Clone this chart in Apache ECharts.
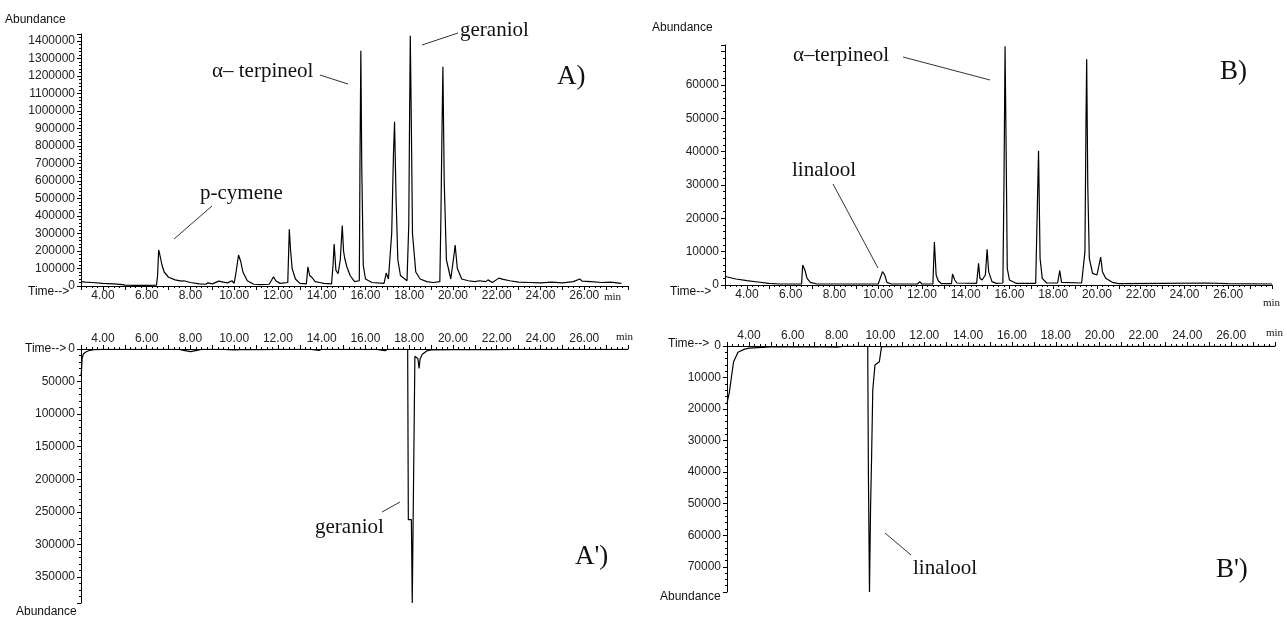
<!DOCTYPE html>
<html>
<head>
<meta charset="utf-8">
<script src="https://cdn.jsdelivr.net/npm/echarts@6/dist/echarts.min.js"></script>
<style>
  html, body { margin: 0; padding: 0; background: #fff; }
  #chart { width: 1287px; height: 617px; }
</style>
</head>
<body>
<div id="chart"></div>
<script>
// x axis: retention time (min), labels every 2 min
const timeMin = 3, timeMax = 28;
const timeLabels = [4, 6, 8, 10, 12, 14, 16, 18, 20, 22, 24, 26];

// A) sample chromatogram  [time, abundance]
const traceA = [
  [3.00, 25000], [3.2, 22000], [3.5, 20000], [4.0, 15000], [4.5, 12000], [4.9, 8000],
  [5.0, 5000], [5.5, 4000], [6.0, 4000], [6.45, 5000], [6.5, 60000], [6.55, 206000],
  [6.6, 180000], [6.7, 120000], [6.8, 80000], [7.0, 50000], [7.3, 35000], [7.6, 28000],
  [7.7, 30000], [8.0, 20000], [8.4, 12000], [8.7, 10000], [8.8, 18000], [9.0, 12000],
  [9.3, 28000], [9.5, 22000], [9.7, 18000], [9.9, 30000], [10.0, 15000], [10.1, 90000],
  [10.2, 177000], [10.3, 140000], [10.4, 80000], [10.6, 30000], [10.9, 10000], [11.2, 8000],
  [11.6, 10000], [11.8, 53000], [11.9, 30000], [12.1, 15000], [12.45, 20000], [12.52, 324000],
  [12.58, 200000], [12.65, 100000], [12.8, 40000], [13.0, 15000], [13.3, 12000], [13.37, 110000],
  [13.45, 60000], [13.55, 50000], [13.7, 25000], [13.9, 20000], [14.1, 15000], [14.45, 12000],
  [14.52, 120000], [14.57, 240000], [14.65, 90000], [14.75, 70000], [14.85, 150000], [14.94, 345000],
  [15.0, 200000], [15.05, 160000], [15.15, 110000], [15.3, 60000], [15.5, 25000], [15.72, 30000],
  [15.75, 700000], [15.79, 1344000], [15.83, 700000], [15.9, 120000], [16.0, 40000], [16.3, 20000],
  [16.85, 15000], [16.95, 74000], [17.05, 40000], [17.2, 300000], [17.28, 750000], [17.33, 939000],
  [17.4, 500000], [17.48, 150000], [17.6, 60000], [17.9, 30000], [17.98, 350000], [18.02, 1000000],
  [18.05, 1430000], [18.1, 900000], [18.15, 300000], [18.3, 80000], [18.5, 40000], [18.8, 25000],
  [19.1, 20000], [19.4, 25000], [19.45, 400000], [19.5, 900000], [19.54, 1253000], [19.6, 600000],
  [19.7, 150000], [19.9, 40000], [20.05, 180000], [20.1, 234000], [20.2, 100000], [20.4, 40000],
  [20.7, 30000], [21.0, 25000], [21.2, 30000], [21.5, 25000], [21.6, 35000], [21.8, 20000],
  [22.1, 45000], [22.3, 38000], [22.6, 30000], [23.0, 22000], [23.5, 20000], [24.0, 18000],
  [24.5, 22000], [25.0, 18000], [25.5, 25000], [25.8, 40000], [25.9, 28000], [26.3, 25000],
  [26.8, 20000], [27.2, 22000], [27.7, 15000]
];

// A') difference trace, plotted downward
const traceA2 = [
  [3.0, 40000], [3.02, 35000], [3.05, 15000], [3.1, 8000], [3.2, 5000], [3.4, 2000],
  [3.6, 1000], [4.0, 500], [6.0, 500], [7.5, 500], [7.7, 2000], [8.0, 4000],
  [8.3, 2000], [8.5, 500], [9.5, 500], [10.0, 1500], [10.5, 500], [11.0, 1000],
  [12.0, 500], [13.5, 500], [13.9, 2000], [14.0, 500], [16.5, 500], [16.9, 2500],
  [17.0, 500], [17.93, 500], [17.96, 262000], [18.1, 262000], [18.14, 390000], [18.2, 390000],
  [18.26, 11000], [18.35, 12000], [18.4, 15000], [18.45, 30000], [18.5, 15000], [18.6, 8000],
  [18.8, 3000], [19.0, 1500], [20.0, 1000], [22.0, 1000], [22.8, 500], [24.0, 500],
  [28.0, 500]
];

// B) sample chromatogram
const traceB = [
  [3.0, 2700], [3.1, 2400], [3.5, 1800], [4.0, 1300], [4.5, 900], [5.0, 500],
  [5.5, 300], [6.5, 300], [6.55, 6000], [6.65, 4500], [6.75, 2000], [6.9, 800],
  [7.2, 300], [10.0, 300], [10.2, 4000], [10.3, 3000], [10.4, 800], [10.6, 300],
  [11.8, 300], [11.9, 1000], [12.0, 300], [12.5, 300], [12.57, 12900], [12.65, 3000],
  [12.75, 1200], [12.9, 400], [13.35, 400], [13.4, 3300], [13.5, 1500], [13.6, 600],
  [14.5, 500], [14.59, 6500], [14.65, 2000], [14.75, 1500], [14.9, 3000], [14.98, 10700],
  [15.05, 4000], [15.2, 1000], [15.4, 500], [15.7, 600], [15.75, 30000], [15.8, 71600],
  [15.85, 40000], [15.9, 5000], [16.0, 1500], [16.3, 500], [17.2, 500], [17.28, 25000],
  [17.33, 40300], [17.4, 8000], [17.5, 2000], [17.7, 600], [18.2, 600], [18.3, 4300],
  [18.38, 800], [19.3, 600], [19.45, 10000], [19.5, 50000], [19.53, 67700], [19.58, 30000],
  [19.65, 8000], [19.8, 3500], [20.0, 3000], [20.17, 8400], [20.25, 4000], [20.4, 2000],
  [20.7, 800], [21.0, 400], [23.0, 500], [25.0, 600], [26.0, 400], [28.0, 300]
];

// B') difference trace, plotted downward
const traceB2 = [
  [3.0, 18000], [3.05, 17500], [3.1, 15000], [3.2, 10000], [3.3, 5000], [3.5, 2000],
  [3.8, 1000], [4.0, 700], [5.0, 300], [7.0, 200], [8.0, 400], [8.3, 100],
  [9.42, 100], [9.45, 40000], [9.5, 78000], [9.55, 51000], [9.6, 34000], [9.65, 14000],
  [9.75, 6000], [9.95, 5000], [10.05, 200], [12.0, 100], [28.0, 100]
];

const axisFont = { fontFamily: 'Liberation Sans', fontSize: 12, color: '#222' };
const serif = 'Liberation Serif';

function xAxisFor(gridIndex, position) {
  return {
    type: 'value', gridIndex: gridIndex, position: position,
    min: timeMin, max: timeMax, interval: 1,
    axisLine: { show: true, onZero: false, lineStyle: { color: '#000', width: 1 } },
    axisTick: { show: true, length: 4, lineStyle: { color: '#000' } },
    minorTick: { show: true, splitNumber: 4, length: 2, lineStyle: { color: '#000' } },
    splitLine: { show: false },
    axisLabel: Object.assign({
      margin: 4,
      formatter: v => timeLabels.indexOf(v) >= 0 ? v.toFixed(2) : ''
    }, axisFont)
  };
}

function yAxisFor(gridIndex, max, interval, labelMax, inverse) {
  return {
    type: 'value', gridIndex: gridIndex, inverse: inverse,
    min: 0, max: max, interval: interval,
    axisLine: { show: true, lineStyle: { color: '#000', width: 1 } },
    axisTick: { show: true, length: 4, lineStyle: { color: '#000' } },
    minorTick: { show: true, splitNumber: 5, length: 2, lineStyle: { color: '#000' } },
    splitLine: { show: false },
    axisLabel: Object.assign({
      margin: 6,
      formatter: v => (v % interval === 0 && v <= labelMax) ? String(v) : ''
    }, axisFont)
  };
}

function trace(data, idx) {
  return {
    type: 'line', xAxisIndex: idx, yAxisIndex: idx, data: data,
    showSymbol: false, symbol: 'none', animation: false,
    lineStyle: { color: '#000', width: 1.2 }
  };
}

function txt(x, y, s, opt) {
  return {
    type: 'text', x: x, y: y, silent: true,
    style: Object.assign({ text: s, fill: '#111', font: '12px "Liberation Sans"', align: 'left', verticalAlign: 'middle' }, opt || {})
  };
}
function ser(x, y, s, size, align) {
  return txt(x, y, s, { font: size + 'px "' + serif + '"', align: align || 'left' });
}
function lead(x1, y1, x2, y2) {
  return { type: 'line', silent: true, shape: { x1: x1, y1: y1, x2: x2, y2: y2 }, style: { stroke: '#333', lineWidth: 1 } };
}

const chart = echarts.init(document.getElementById('chart'), null, { renderer: 'canvas' });
chart.setOption({
  backgroundColor: '#fff',
  animation: false,
  grid: [
    { left: 81, top: 34, width: 547, height: 252, outerBoundsMode: 'none' },
    { left: 81, top: 349, width: 547, height: 254, outerBoundsMode: 'none' },
    { left: 725, top: 45, width: 547, height: 240, outerBoundsMode: 'none' },
    { left: 727, top: 346, width: 548, height: 246, outerBoundsMode: 'none' }
  ],
  xAxis: [
    xAxisFor(0, 'bottom'), xAxisFor(1, 'top'), xAxisFor(2, 'bottom'), xAxisFor(3, 'top')
  ],
  yAxis: [
    yAxisFor(0, 1440000, 100000, 1400000, false),
    yAxisFor(1, 390000, 50000, 350000, true),
    yAxisFor(2, 72000, 10000, 60000, false),
    yAxisFor(3, 78000, 10000, 70000, true)
  ],
  series: [trace(traceA, 0), trace(traceA2, 1), trace(traceB, 2), trace(traceB2, 3)],
  graphic: [
    // axis captions
    txt(5, 20, 'Abundance'),
    txt(28, 292, 'Time-->'),
    txt(604, 297, 'min', { font: '11px "Liberation Serif"' }),
    txt(25, 349, 'Time-->'),
    txt(16, 612, 'Abundance'),
    txt(616, 337, 'min', { font: '11px "Liberation Serif"' }),
    txt(652, 28, 'Abundance'),
    txt(670, 292, 'Time-->'),
    txt(1263, 303, 'min', { font: '11px "Liberation Serif"' }),
    txt(668, 344, 'Time-->'),
    txt(660, 597, 'Abundance'),
    txt(1266, 333, 'min', { font: '11px "Liberation Serif"' }),
    // A)
    ser(212, 71, 'α– terpineol', 21), lead(320, 75, 348, 84),
    ser(460, 30, 'geraniol', 21), lead(422, 45, 458, 33),
    ser(200, 193, 'p-cymene', 21), lead(174, 239, 212, 206),
    ser(557, 77, 'A)', 27),
    // A')
    ser(315, 527, 'geraniol', 21), lead(382, 512, 400, 502),
    ser(575, 557, "A')", 27),
    // B)
    ser(793, 55, 'α–terpineol', 21), lead(903, 57, 990, 80),
    ser(792, 170, 'linalool', 21), lead(833, 184, 878, 268),
    ser(1220, 72, 'B)', 27),
    // B')
    ser(913, 568, 'linalool', 21), lead(885, 533, 911, 555),
    ser(1216, 570, "B')", 27)
  ]
});
</script>
</body>
</html>
